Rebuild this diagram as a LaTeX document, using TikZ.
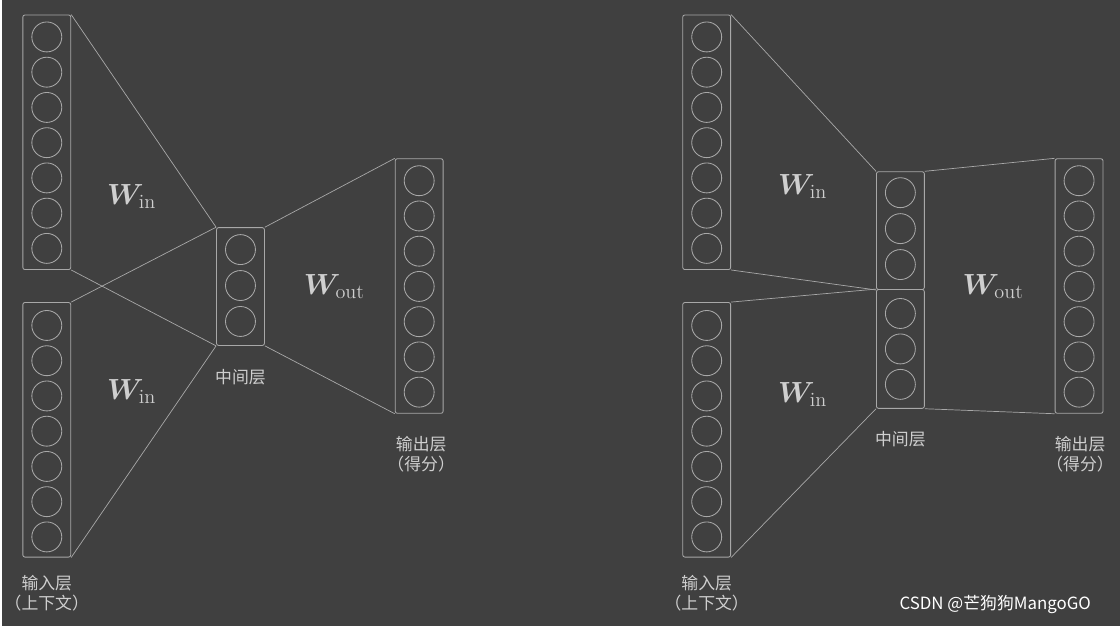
\documentclass[tikz,border=0pt]{standalone}
\usepackage{fontspec}
\usepackage{amsmath}
\usepackage{bm}
\newfontfamily\cjk{Noto Sans CJK SC}
\definecolor{bgcol}{HTML}{404040}
\definecolor{linecol}{HTML}{A8A8A8}
\definecolor{txtcol}{HTML}{CFCFCF}

\begin{document}
\begin{tikzpicture}[x=0.025cm, y=-0.025cm, line width=0.6pt,
   col_style/.style={draw=linecol, rounded corners=1.5pt, minimum width=48*0.025cm, inner sep=0pt},
   unit_style/.style={circle, draw=linecol, minimum size=30*0.025cm, inner sep=0pt},
   edge_style/.style={draw=linecol, line width=0.5pt},
   lbl_style/.style={text=txtcol, font=\cjk\fontsize{12}{14}\selectfont, align=center},
   w_style/.style={text=txtcol, font=\huge}]

    \fill[bgcol] (0,0) rectangle (1120,627);

    % left model
    \node[col_style, minimum height=255*0.025cm] (lin1) at (45,142.5) {};
    \node[col_style, minimum height=255*0.025cm] (lin2) at (45,430.5) {};
    \node[col_style, minimum height=118*0.025cm] (lmid) at (239,287) {};
    \node[col_style, minimum height=255*0.025cm] (lout) at (418,286.5) {};
    \foreach \i in {0,...,6} {
        \node[unit_style] (la\i) at (45,37+35.3*\i) {};
        \node[unit_style] (lb\i) at (45,326+35.3*\i) {};
        \node[unit_style] (lo\i) at (418,181+35.3*\i) {};
    }
    \foreach \i in {0,1,2}
        \node[unit_style] (lm\i) at (239,250+36*\i) {};
    \draw[edge_style] (lin1.north east) -- (lmid.north west);
    \draw[edge_style] (lin1.south east) -- (lmid.south west);
    \draw[edge_style] (lin2.north east) -- (lmid.north west);
    \draw[edge_style] (lin2.south east) -- (lmid.south west);
    \draw[edge_style] (lmid.north east) -- (lout.north west);
    \draw[edge_style] (lmid.south east) -- (lout.south west);
    \node[w_style] (lw1) at (130,197) {$\bm{W}_{\text{in}}$};
    \node[w_style] (lw2) at (130,392) {$\bm{W}_{\text{in}}$};
    \node[w_style] (lw3) at (333,287) {$\bm{W}_{\text{out}}$};
    \node[lbl_style] (lml) at (239,378) {中间层};
    \node[lbl_style] (lol) at (420,455) {输出层\\（得分）};
    \node[lbl_style] (lil) at (45,594) {输入层\\（上下文）};

    % right model
    \node[col_style, minimum height=255*0.025cm] (rin1) at (706,142.5) {};
    \node[col_style, minimum height=255*0.025cm] (rin2) at (706,430.5) {};
    \node[col_style, minimum height=118*0.025cm] (rmid1) at (900,231) {};
    \node[col_style, minimum height=119*0.025cm] (rmid2) at (900,349.5) {};
    \node[col_style, minimum height=255*0.025cm] (rout) at (1079,286.5) {};
    \foreach \i in {0,...,6} {
        \node[unit_style] (ra\i) at (706,37+35.3*\i) {};
        \node[unit_style] (rb\i) at (706,326+35.3*\i) {};
        \node[unit_style] (ro\i) at (1079,181+35.3*\i) {};
    }
    \foreach \i in {0,1,2} {
        \node[unit_style] (rm\i) at (900,193+36*\i) {};
        \node[unit_style] (rn\i) at (900,314+35.5*\i) {};
    }
    \draw[edge_style] (rin1.north east) -- (rmid1.north west);
    \draw[edge_style] (rin1.south east) -- (rmid1.south west);
    \draw[edge_style] (rin2.north east) -- (rmid2.north west);
    \draw[edge_style] (rin2.south east) -- (rmid2.south west);
    \draw[edge_style] (rmid1.north east) -- (rout.north west);
    \draw[edge_style] (rmid2.south east) -- (rout.south west);
    \node[w_style] (rw1) at (802,187) {$\bm{W}_{\text{in}}$};
    \node[w_style] (rw2) at (802,395) {$\bm{W}_{\text{in}}$};
    \node[w_style] (rw3) at (993,287) {$\bm{W}_{\text{out}}$};
    \node[lbl_style] (rml) at (900,440) {中间层};
    \node[lbl_style] (rol) at (1080,455) {输出层\\（得分）};
    \node[lbl_style] (ril) at (706,594) {输入层\\（上下文）};

    \node[text=white, font=\cjk\fontsize{12}{14}\selectfont] (mark) at (995,606) {CSDN @芒狗狗MangoGO};
\end{tikzpicture}
\end{document}
